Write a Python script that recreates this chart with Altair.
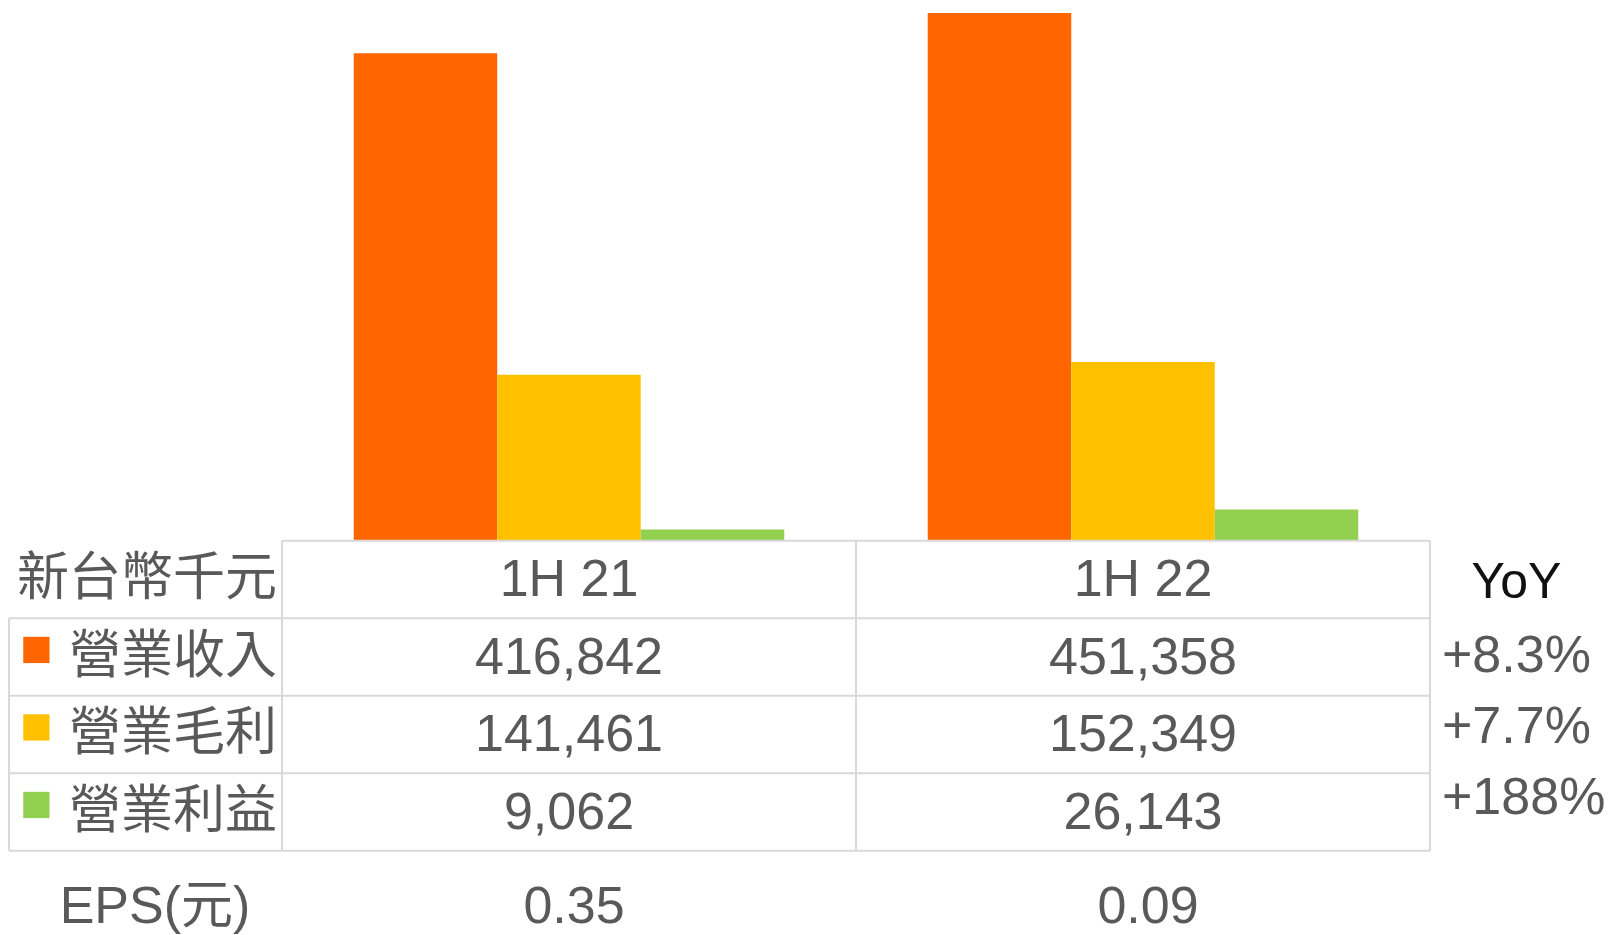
import altair as alt
import pandas as pd

# ---- data ----
periods = ["1H 21", "1H 22"]
metrics = ["營業收入", "營業毛利", "營業利益"]
metric_colors = ["#FF6600", "#FFC000", "#92D050"]
revenue = [416842, 451358]
gross_profit = [141461, 152349]
operating_income = [9062, 26143]
eps_values = ["0.35", "0.09"]
yoy_values = ["+8.3%", "+7.7%", "+188%"]
unit_label = "新台幣千元"
eps_label = "EPS(元)"
yoy_label = "YoY"

row_keys = ["hdr", "r1", "r2", "r3", "eps"]
metric_rows = ["r1", "r2", "r3"]
series = [revenue, gross_profit, operating_income]

bars_df = pd.DataFrame([
    {"period": p, "metric": m, "value": v}
    for m, vals in zip(metrics, series) for p, v in zip(periods, vals)
])
cells_df = pd.DataFrame(
    [{"row": "hdr", "period": p, "text": p} for p in periods]
    + [{"row": r, "period": p, "text": f"{v:,}"}
       for r, vals in zip(metric_rows, series) for p, v in zip(periods, vals)]
)
eps_df = pd.DataFrame({"row": ["eps"] * len(periods), "period": periods, "text": eps_values})
labels_df = pd.DataFrame({"row": ["hdr"] + metric_rows, "text": [unit_label] + metrics})
legend_df = pd.DataFrame({"row": metric_rows, "metric": metrics})
eps_label_df = pd.DataFrame({"row": ["eps"], "text": [eps_label]})
yoy_head_df = pd.DataFrame({"row": ["hdr"], "text": [yoy_label]})
yoy_df = pd.DataFrame({"row": ["r1"], "text": ["\n".join(yoy_values)]})
hline_df = pd.DataFrame({"row": ["r1", "r2", "r3", "eps"]})
htop_df = pd.DataFrame({"row": ["hdr"]})
vcol_df = pd.DataFrame({"period": periods})
vright_df = pd.DataFrame({"period": [periods[-1]]})

# ---- scales ----
TEXT = "#595959"
GRID = "#D9D9D9"
x_scale = alt.Scale(domain=periods, range=[274, 1422], paddingInner=0, paddingOuter=0)
xoff_scale = alt.Scale(domain=metrics, paddingInner=0, paddingOuter=0.5)
y_bar = alt.Scale(domain=[0, 455600], range=[532, 0], nice=False, zero=True)
y_row = alt.Scale(domain=row_keys, range=[532.7, 920.2], paddingInner=0, paddingOuter=0)
color_scale = alt.Scale(domain=metrics, range=metric_colors)

X = lambda **kw: alt.X("period:N", scale=x_scale, axis=None, **kw)
Y = lambda **kw: alt.Y("row:N", scale=y_row, axis=None, **kw)

bars = alt.Chart(bars_df).mark_bar().encode(
    x=X(),
    xOffset=alt.XOffset("metric:N", scale=xoff_scale, sort=metrics),
    y=alt.Y("value:Q", scale=y_bar, axis=None),
    color=alt.Color("metric:N", scale=color_scale, legend=None, sort=metrics),
)

hlines = alt.Chart(hline_df).mark_rule(color=GRID, strokeWidth=2).encode(
    y=Y(bandPosition=0), x=alt.value(1), x2=alt.value(1422)
)
htop = alt.Chart(htop_df).mark_rule(color=GRID, strokeWidth=2).encode(
    y=Y(bandPosition=0), x=alt.value(274), x2=alt.value(1422)
)
vcols = alt.Chart(vcol_df).mark_rule(color=GRID, strokeWidth=2).encode(
    x=X(bandPosition=0), y=alt.value(532.7), y2=alt.value(842.7)
)
vright = alt.Chart(vright_df).mark_rule(color=GRID, strokeWidth=2).encode(
    x=X(bandPosition=1), y=alt.value(532.7), y2=alt.value(842.7)
)
vleft = alt.Chart(htop_df).mark_rule(color=GRID, strokeWidth=2).encode(
    x=alt.value(1), y=alt.value(610.2), y2=alt.value(842.7)
)

cells = alt.Chart(cells_df).mark_text(
    font="Liberation Sans", fontSize=52, color=TEXT, baseline="alphabetic", dy=17
).encode(x=X(), y=Y(), text="text:N")

eps_cells = alt.Chart(eps_df).mark_text(
    font="Liberation Sans", fontSize=52, color=TEXT, baseline="alphabetic", dy=34, dx=5
).encode(x=X(), y=Y(), text="text:N")

labels = alt.Chart(labels_df).mark_text(
    font="Noto Sans CJK TC", fontSize=52, color=TEXT, align="right",
    baseline="alphabetic", dy=16
).encode(x=alt.value(269), y=Y(), text="text:N")

squares = alt.Chart(legend_df).mark_square(size=690, opacity=1, strokeWidth=0).encode(
    x=alt.value(28.4), y=Y(), yOffset=alt.value(-7),
    color=alt.Color("metric:N", scale=color_scale, legend=None, sort=metrics),
)

eps_label_txt = alt.Chart(eps_label_df).mark_text(
    font="Liberation Sans, Noto Sans CJK TC", fontSize=52, color=TEXT,
    baseline="alphabetic", dy=34
).encode(x=alt.value(147), y=Y(), text="text:N")

yoy_head = alt.Chart(yoy_head_df).mark_text(
    font="Liberation Sans", fontSize=50, color="#111111", baseline="alphabetic", dy=19
).encode(x=alt.value(1508.5), y=Y(), text="text:N")

yoy = alt.Chart(yoy_df).mark_text(
    font="Liberation Sans", fontSize=52, color=TEXT, align="left",
    baseline="alphabetic", dy=15, lineBreak="\n", lineHeight=71
).encode(x=alt.value(1434), y=Y(), text="text:N")

chart = alt.layer(
    bars, hlines, htop, vcols, vright, vleft, cells, eps_cells, labels, squares,
    eps_label_txt, yoy_head, yoy,
).resolve_scale(y="independent").properties(
    width=1599, height=927, autosize=alt.AutoSizeParams(type="none"), padding=0
).configure_view(stroke=None)

chart.save("out.html", embed_options={"renderer": "svg", "actions": False})
